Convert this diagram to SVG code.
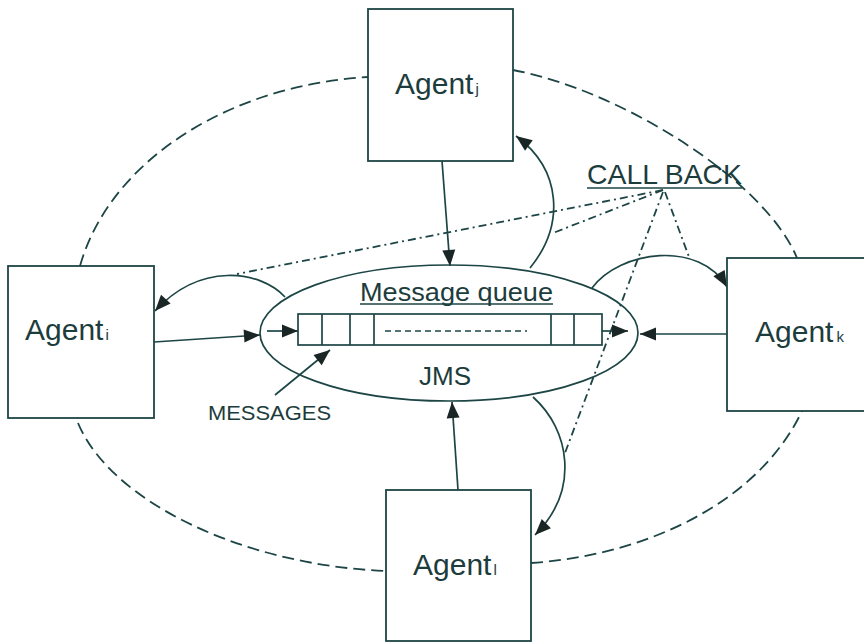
<svg xmlns="http://www.w3.org/2000/svg" width="864" height="643" viewBox="0 0 864 643">
<defs>
<style>
.ln{fill:none;stroke:#1d4545;stroke-width:1.7}
.ring{fill:none;stroke:#1d4545;stroke-width:1.8;stroke-dasharray:12 6}
.cb{fill:none;stroke:#1d4545;stroke-width:1.8;stroke-dasharray:8 4 2 4}
.box{fill:#fff;stroke:#1d4545;stroke-width:1.8}
.t{font-family:"Liberation Sans",Arial,sans-serif;fill:#1d3c3c}
.ag{font-size:30px}
.sub{font-size:15px}
.arr{marker-end:url(#ah)}
</style>
<marker id="ah" markerUnits="userSpaceOnUse" markerWidth="18" markerHeight="14" refX="16" refY="6.5" orient="auto" overflow="visible">
<path d="M0,0 L16,6.5 L0,13 z" fill="#1a2626"/>
</marker>
</defs>
<rect width="864" height="643" fill="#fff"/>

<g id="connectors">
<!-- dashed ring -->
<path class="ring" d="M80,266 C110,160 230,85 368,77"/>
<path class="ring" d="M513,70 C620,90 765,180 797,258"/>
<path class="ring" d="M78,423 C110,500 240,565 386,571"/>
<path class="ring" d="M531,563 C650,555 760,500 802,411"/>
<!-- call back dot-dash lines -->
<path class="cb" d="M663,190 L237,274"/>
<path class="cb" d="M663,190 L553,233"/>
<path class="cb" d="M663,192 L565,453"/>
<path class="cb" d="M665,192 L689,257"/>
<!-- straight arrows -->
<path class="ln arr" d="M154,342 L260,335"/>
<path class="ln arr" d="M727,334 L640,334"/>
<path class="ln arr" d="M442,161 L450,266"/>
<path class="ln arr" d="M458,490 L452,402"/>
<path class="ln arr" d="M267,331 L298,331"/>
<path class="ln arr" d="M602,331 L628,331"/>
<path class="ln arr" d="M275,395 L330,350"/>
<!-- callback curves -->
<path class="ln arr" d="M530,268 C565,225 562,170 516,136"/>
<path class="ln arr" d="M285,297 C260,270 200,262 155,311"/>
<path class="ln arr" d="M592,288 C620,250 700,240 727,287"/>
<path class="ln arr" d="M533,397 C570,430 580,490 535,535"/>
</g>

<g id="jms">
<ellipse class="ln" cx="449" cy="333" rx="189" ry="68"/>
<text class="t" x="360" y="301" font-size="25" textLength="193" lengthAdjust="spacingAndGlyphs">Message queue</text>
<line class="ln" x1="360" y1="304" x2="553" y2="304" stroke-width="1.5"/>
<rect class="ln" x="298" y="314" width="304" height="31"/>
<line class="ln" x1="322" y1="314" x2="322" y2="345"/>
<line class="ln" x1="350" y1="314" x2="350" y2="345"/>
<line class="ln" x1="374" y1="314" x2="374" y2="345"/>
<line class="ln" x1="551" y1="314" x2="551" y2="345"/>
<line class="ln" x1="574" y1="314" x2="574" y2="345"/>
<line class="ln" x1="385" y1="331" x2="527" y2="331" stroke-dasharray="6 4" stroke-width="1.5"/>
<text class="t" x="445" y="385" font-size="26" text-anchor="middle">JMS</text>
</g>

<g id="agent-j">
<rect class="box" x="368" y="9" width="145" height="152"/>
<text class="t ag" x="395" y="94">Agent<tspan class="sub" dx="2">j</tspan></text>
</g>
<g id="agent-i">
<rect class="box" x="8" y="266" width="146" height="152"/>
<text class="t ag" x="25" y="340">Agent<tspan class="sub" dx="2">i</tspan></text>
</g>
<g id="agent-k">
<rect class="box" x="727" y="258" width="150" height="153"/>
<text class="t ag" x="755" y="342">Agent<tspan class="sub" dx="3">k</tspan></text>
</g>
<g id="agent-l">
<rect class="box" x="386" y="490" width="145" height="151"/>
<text class="t ag" x="413" y="575">Agent<tspan class="sub" dx="2">l</tspan></text>
</g>

<g id="label-callback">
<text class="t" x="587" y="184" font-size="28" textLength="155" lengthAdjust="spacingAndGlyphs">CALL BACK</text>
<line class="ln" x1="587" y1="188" x2="742" y2="188" stroke-width="1.5"/>
</g>
<g id="label-messages">
<text class="t" x="208" y="420" font-size="21" textLength="123" lengthAdjust="spacingAndGlyphs">MESSAGES</text>
</g>
</svg>
